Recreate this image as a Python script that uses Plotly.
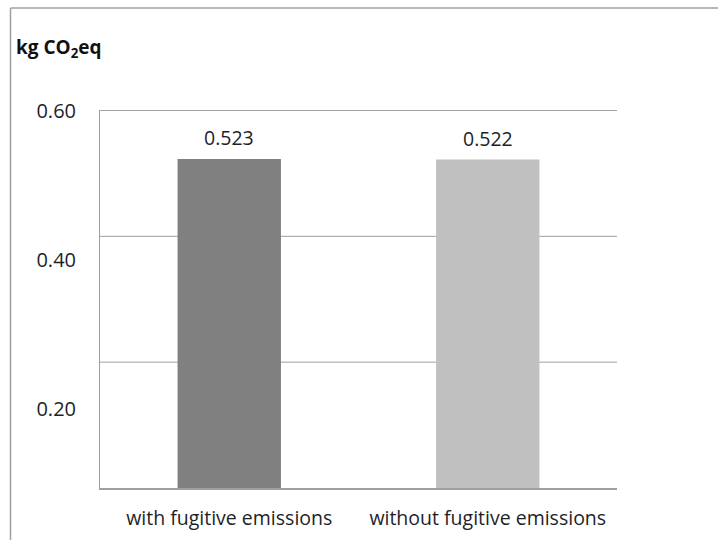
import plotly.graph_objects as go

categories = ["with fugitive emissions", "without fugitive emissions"]
values = [0.523, 0.522]
value_labels = ["0.523", "0.522"]
bar_colors = ["#808080", "#C0C0C0"]
grid_values = [0.2, 0.4, 0.6]
tick_positions = [0.6, 0.363, 0.126]
tick_labels = ["0.60", "0.40", "0.20"]

W, H = 718, 540
L, R, T, B = 100, 101, 110, 52
pw = W - L - R
ph = H - T - B

TXT = "#1E1E2A"
GRID = "#A0A0A0"

fig = go.Figure()
fig.add_trace(go.Bar(x=categories, y=values, marker=dict(color=bar_colors, line=dict(width=0)),
                     width=0.4, showlegend=False, hoverinfo="skip"))

for c, v, t in zip(categories, values, value_labels):
    fig.add_annotation(x=c, y=v, text=t, showarrow=False, yanchor="bottom", yshift=6,
                       font=dict(family="Open Sans", size=19.5, color=TXT))

def px_x(p):
    return (p - L) / pw

def px_y(p):
    return 1 - (p - T) / ph

shapes = [
    dict(type="line", xref="paper", yref="y", x0=0, x1=1, y0=g, y1=g, layer="below",
         line=dict(color=GRID, width=1))
    for g in grid_values
]
shapes += [
    dict(type="line", xref="paper", yref="paper", x0=px_x(10.5), x1=px_x(10.5), y0=px_y(545), y1=px_y(8),
         line=dict(color=GRID, width=1.5)),
    dict(type="line", xref="paper", yref="paper", x0=px_x(10.5), x1=px_x(720), y0=px_y(8), y1=px_y(8),
         line=dict(color=GRID, width=1.5)),
]

fig.update_layout(
    width=W, height=H,
    margin=dict(l=L, r=R, t=T, b=B, pad=0, autoexpand=False),
    paper_bgcolor="white", plot_bgcolor="white",
    font=dict(family="Open Sans", size=19.5, color=TXT),
    xaxis=dict(showgrid=False, showline=True, linecolor=GRID, linewidth=1.5,
               ticks="", tickfont=dict(family="Open Sans", size=19.5, color=TXT),
               ticklabelstandoff=12, fixedrange=True, automargin=False),
    yaxis=dict(range=[0, 0.6008], showgrid=False, showline=True, linecolor=GRID, linewidth=1,
               tickvals=tick_positions, ticktext=tick_labels, ticks="",
               tickfont=dict(family="Open Sans", size=20, color=TXT),
               ticklabelstandoff=19, zeroline=False, fixedrange=True, automargin=False),
    shapes=shapes,
    annotations=list(fig.layout.annotations) + [
        dict(xref="paper", yref="paper", x=px_x(14), y=px_y(48), xanchor="left", yanchor="middle",
             text="<b>kg CO<sub>2</sub>eq</b>", showarrow=False,
             font=dict(family="Open Sans", size=19, color="#111111")),
    ],
)

fig.write_html("out.html", config={"displayModeBar": False, "staticPlot": True},
               post_script="document.body.style.margin='0px';document.body.style.overflow='hidden';")
